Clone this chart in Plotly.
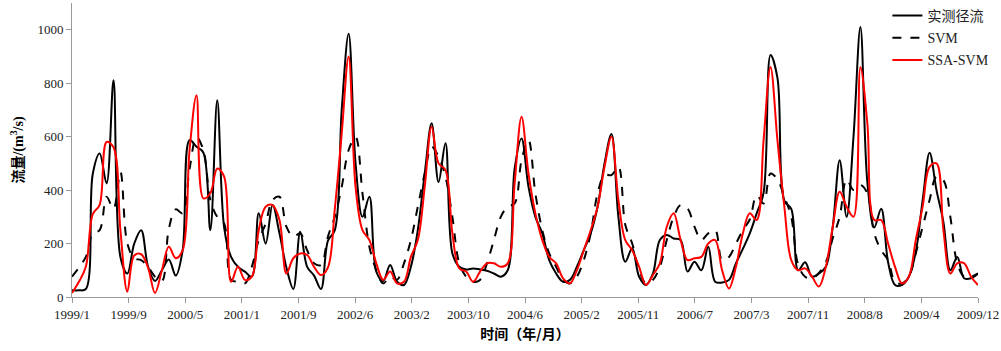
import plotly.graph_objects as go

tick_labels = ["1999/1", "1999/9", "2000/5", "2001/1", "2001/9", "2002/6", "2003/2",
               "2003/10", "2004/6", "2005/2", "2005/11", "2006/7", "2007/3", "2007/11",
               "2008/8", "2009/4", "2009/12"]

observed = [25, 25, 30, 460, 537, 425, 811, 150, 88, 200, 250, 113, 60, 100, 140, 80,
            175, 587, 562, 540, 250, 736, 260, 150, 113, 95, 76, 313, 200, 344, 238, 110,
            30, 244, 113, 80, 30, 210, 250, 700, 985, 500, 300, 375, 95, 60, 120, 57,
            45, 113, 250, 462, 650, 430, 575, 163, 113, 103, 107, 103, 98, 88, 76, 100,
            480, 593, 413, 300, 238, 138, 88, 57, 64, 113, 175, 238, 338, 500, 610, 300,
            132, 182, 76, 45, 88, 213, 232, 219, 213, 95, 132, 100, 188, 57, 54, 64,
            126, 180, 238, 313, 390, 905, 820, 360, 330, 100, 130, 76, 88, 113, 263, 512,
            300, 600, 1010, 430, 260, 330, 130, 45, 45, 76, 168, 363, 540, 400, 280, 100,
            150, 70, 70, 88]

svm = [76, 110, 150, 238, 250, 375, 330, 468, 200, 145, 138, 113, 76, 60, 255, 328,
       313, 480, 598, 550, 363, 300, 275, 64, 57, 51, 113, 213, 275, 363, 375, 263,
       225, 238, 175, 126, 120, 225, 300, 412, 550, 598, 388, 188, 100, 51, 76, 64,
       126, 213, 338, 462, 562, 525, 450, 300, 126, 76, 57, 64, 126, 213, 300, 338,
       350, 512, 587, 388, 250, 163, 113, 64, 51, 76, 138, 238, 388, 456, 456, 487,
       270, 200, 100, 51, 64, 113, 213, 300, 344, 331, 263, 213, 238, 250, 138, 150,
       200, 250, 290, 380, 350, 462, 440, 375, 300, 120, 76, 70, 90, 130, 220, 300,
       440, 400, 419, 388, 238, 175, 138, 57, 51, 76, 163, 263, 363, 450, 437, 300,
       126, 76, 76, 88]

ssa_svm = [15, 57, 113, 310, 345, 580, 560, 250, 20, 155, 160, 110, 15, 100, 188, 145,
           175, 550, 755, 369, 388, 481, 450, 57, 113, 64, 76, 250, 338, 344, 288, 88,
           145, 163, 157, 113, 82, 110, 330, 612, 900, 412, 250, 213, 126, 64, 95, 51,
           57, 150, 213, 412, 637, 500, 475, 238, 107, 95, 57, 95, 126, 126, 113, 126,
           425, 674, 462, 313, 213, 150, 126, 70, 51, 100, 175, 250, 338, 487, 600, 363,
           213, 175, 113, 45, 82, 126, 263, 313, 213, 138, 145, 150, 200, 213, 100, 32,
           113, 238, 313, 288, 587, 861, 587, 338, 138, 100, 107, 76, 39, 113, 263, 394,
           338, 300, 860, 650, 288, 288, 200, 113, 51, 76, 213, 338, 487, 500, 250, 88,
           126, 126, 76, 45]

months = list(range(len(observed)))
n_ticks = len(tick_labels)
tick_vals = [(len(observed) - 1) * k / (n_ticks - 1) for k in range(n_ticks)]

fig = go.Figure()
fig.add_trace(go.Scatter(x=months, y=observed, mode="lines", name="实测径流",
                         legendgroup="a",
                         line=dict(color="black", width=2, shape="spline", smoothing=1)))
fig.add_trace(go.Scatter(x=months, y=svm, mode="lines", name="SVM",
                         legendgroup="b",
                         line=dict(color="black", width=2, dash="dash", shape="spline", smoothing=1)))
fig.add_trace(go.Scatter(x=months, y=ssa_svm, mode="lines", name="SSA-SVM",
                         legendgroup="c",
                         line=dict(color="red", width=2, shape="spline", smoothing=1)))

axis_font = dict(family="Liberation Serif, Times New Roman, serif", size=13, color="#222")

fig.update_layout(
    width=1001, height=351,
    margin=dict(l=72, r=23, t=3, b=54, autoexpand=False),
    paper_bgcolor="white", plot_bgcolor="white",
    font=dict(family="Liberation Serif, Noto Sans CJK SC, serif", size=13, color="black"),
    legend=dict(x=0.90, y=1.0, xanchor="left", yanchor="top", yref="container",
                bgcolor="rgba(255,255,255,0)",
                font=dict(family="Liberation Serif, Noto Sans CJK SC, serif", size=14, color="#222"),
                traceorder="grouped", tracegroupgap=1),
    showlegend=True,
)
fig.update_xaxes(range=[0, len(observed) - 1], tickvals=tick_vals, ticktext=tick_labels,
                 showgrid=False, zeroline=False, showline=True, linecolor="#999", linewidth=1,
                 ticks="outside", ticklen=5, tickcolor="#999", tickfont=axis_font,
                 title=dict(text="<b>时间（年/月）</b>",
                            font=dict(family="Noto Sans CJK SC", size=14, color="black"),
                            standoff=8))
fig.update_yaxes(range=[0, 1100], tickvals=[0, 200, 400, 600, 800, 1000],
                 showgrid=False, zeroline=False, showline=True, linecolor="#999", linewidth=1,
                 ticks="outside", ticklen=5, tickcolor="#999", tickfont=axis_font,
                 title=dict(text="<b>流量/(m<sup>3</sup>/s)</b>",
                            font=dict(family="Liberation Serif, Noto Sans CJK SC", size=14, color="black"),
                            standoff=10))

fig.write_html("out.html", config={"displayModeBar": False},
               post_script=["document.body.style.margin='0px';document.body.style.overflow='hidden';"])
